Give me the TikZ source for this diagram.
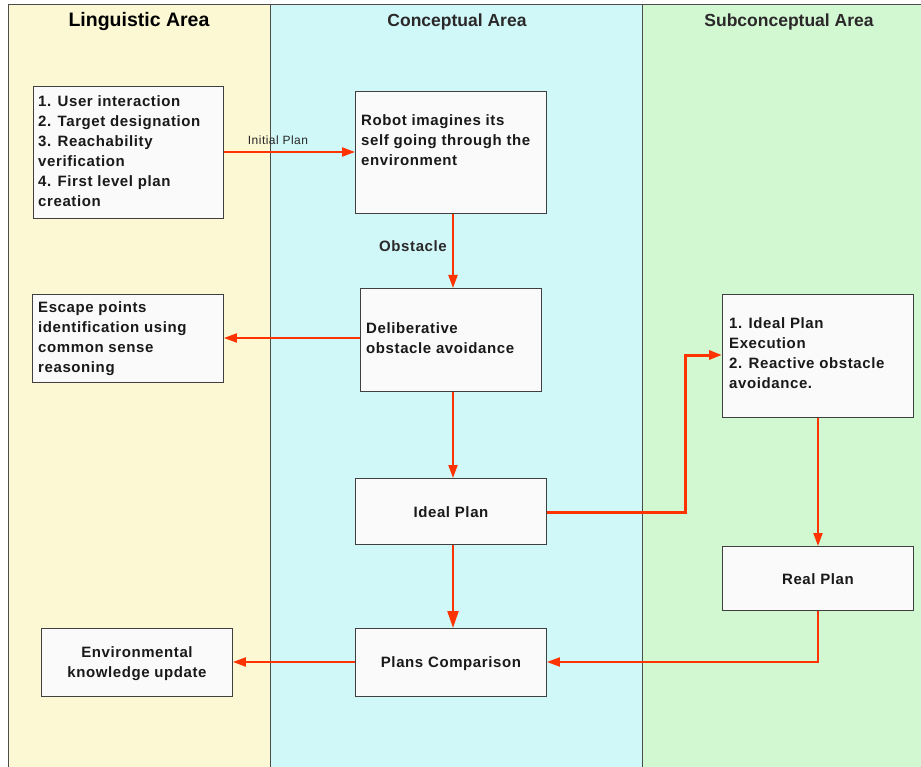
\documentclass[tikz,border=0pt]{standalone}
\usepackage{fontspec}
\setmainfont{Liberation Sans}
\newfontfamily\boxfont[LetterSpace=4]{Liberation Sans}
\usetikzlibrary{arrows.meta}
\definecolor{lingc}{HTML}{FBF8D3}
\definecolor{concc}{HTML}{D0F8F8}
\definecolor{subc}{HTML}{D2F8D2}
\definecolor{arr}{HTML}{FF3300}
\definecolor{boxf}{HTML}{FAFAFA}
\tikzset{
  box/.style={draw=black!75, fill=boxf, line width=0.9pt, inner sep=0pt, anchor=north west},
  txt/.style={font=\boxfont\bfseries\fontsize{15}{20}\selectfont, align=left, inner sep=0pt, text=black!90},
  ctxt/.style={font=\boxfont\bfseries\fontsize{15}{20}\selectfont, align=center, inner sep=0pt, text=black!90},
  hdr/.style={font=\bfseries\fontsize{17.5}{20}\selectfont, text=black!85!cyan!30!black},
  conn/.style={draw=arr, line width=2pt, -{Triangle[length=13pt,width=9pt]}},
  bigconn/.style={draw=arr, line width=2.2pt, -{Triangle[length=17pt,width=11pt]}},
}
\begin{document}
\begin{tikzpicture}[x=1pt,y=-1pt]
\useasboundingbox (0,0) rectangle (921,767);
\fill[white] (0,0) rectangle (921,767);
% columns
\fill[lingc] (8,4) rectangle (270,767);
\fill[concc] (270,4) rectangle (642,767);
\fill[subc] (642,4) rectangle (921,767);
\draw[black!70, line width=0.9pt] (8,767) -- (8,4) -- (921,4);
\draw[black!70, line width=0.9pt] (270,4) -- (270,767);
\draw[black!70, line width=0.9pt] (642,4) -- (642,767);
% headers
\node[hdr, font=\bfseries\fontsize{19.5}{22}\selectfont, text=black] (h1) at (139,22) {Linguistic Area};
\node[hdr] (h2) at (457,22) {Conceptual Area};
\node[hdr] (h3) at (789,22) {Subconceptual Area};
% boxes
\node[box, minimum width=190pt, minimum height=132pt] (b1) at (33,86) {};
\node[txt, anchor=north west] (t1) at (38,95) {1. User interaction\\2. Target designation\\3. Reachability\\verification\\4. First level plan\\creation};
\node[box, minimum width=191pt, minimum height=122pt] (rob) at (355,91) {};
\node[txt, anchor=north west] (t2) at (361,114) {Robot imagines its\\self going through the\\environment};
\node[box, minimum width=191pt, minimum height=88pt] (esc) at (32,294) {};
\node[txt, anchor=north west] (t3) at (38,301) {Escape points\\identification using\\common sense\\reasoning};
\node[box, minimum width=181pt, minimum height=103pt] (del) at (360,288) {};
\node[txt, anchor=north west] (t4) at (366,322) {Deliberative\\obstacle avoidance};
\node[box, minimum width=191pt, minimum height=123pt] (exe) at (722,294) {};
\node[txt, anchor=north west] (t5) at (729,317) {1. Ideal Plan\\Execution\\2. Reactive obstacle\\avoidance.};
\node[box, minimum width=191pt, minimum height=66pt] (ideal) at (355,478) {};
\node[ctxt] (t6) at ([yshift=-1pt]ideal.center) {Ideal Plan};
\node[box, minimum width=191pt, minimum height=64pt] (real) at (722,546) {};
\node[ctxt] (t7) at ([yshift=-1pt]real.center) {Real Plan};
\node[box, minimum width=191pt, minimum height=68pt] (cmp) at (355,628) {};
\node[ctxt] (t8) at ([yshift=-1pt]cmp.center) {Plans Comparison};
\node[box, minimum width=191pt, minimum height=68pt] (env) at (41,628) {};
\node[ctxt] (t9) at ([yshift=-1pt]env.center) {Environmental\\knowledge update};
% connectors
\draw[conn] (b1.east |- 0,152) -- (rob.west |- 0,152);
\node[font=\boxfont\fontsize{12}{12}\selectfont, text=black!85, inner sep=0pt] (lip) at (278,140) {Initial Plan};
\draw[conn] (rob.south -| 453,0) -- (del.north -| 453,0);
\node[font=\boxfont\bfseries\fontsize{15}{16}\selectfont, text=black!85!cyan!30!black, inner sep=0pt] (lob) at (413,246) {Obstacle};
\draw[conn] (del.west |- 0,338) -- (esc.east |- 0,338);
\draw[conn] (del.south -| 453,0) -- (ideal.north -| 453,0);
\coordinate (k1) at (685,512);
\coordinate (k2) at (685,355);
\draw[conn, line width=3pt] (ideal.east |- 0,512) -- (k1) -- (k2) -- (exe.west |- 0,355);
\draw[conn] (exe.south -| 818,0) -- (real.north -| 818,0);
\coordinate (k3) at (818,662);
\draw[conn] (real.south -| 818,0) -- (k3) -- (cmp.east |- 0,662);
\draw[bigconn] (ideal.south -| 453,0) -- (cmp.north -| 453,0);
\draw[conn] (cmp.west |- 0,662) -- (env.east |- 0,662);
\end{tikzpicture}
\end{document}
